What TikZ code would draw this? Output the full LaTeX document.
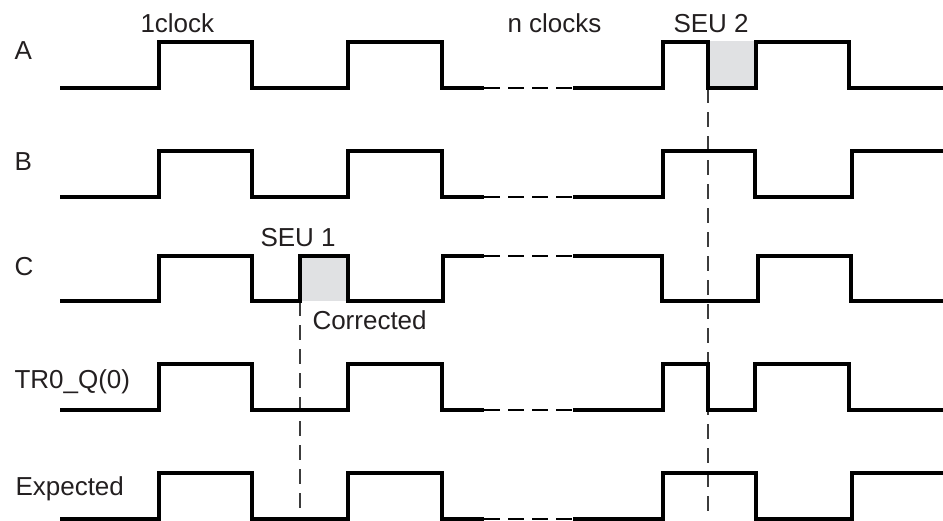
\documentclass[tikz,border=0pt]{standalone}
\usepackage{fontspec}
\setmainfont{Liberation Sans}

\tikzset{every picture/.style={line width=0.75pt}}
\tikzset{
  wave/.style={line width=2.4pt, line join=miter},
  gapline/.style={line width=1pt, dash pattern=on 12pt off 6pt},
  guide/.style={line width=0.9pt, draw={rgb, 255:red, 60; green, 60; blue, 60}, dash pattern=on 11pt off 7pt},
  seubox/.style={fill={rgb, 255:red, 224; green, 225; blue, 227}, draw=none},
  lbl/.style={anchor=base west, inner sep=0pt, text={rgb, 255:red, 35; green, 31; blue, 32}, font=\fontsize{19.5}{23}\selectfont}
}

\begin{document}
\begin{tikzpicture}[x=0.75pt, y=0.75pt, yscale=-1,xscale=1]

    \useasboundingbox (0,0) rectangle (943,521);

    % labels
    \node (lblA)   [lbl] at ( 14, 60) {A};
    \node (lblB)   [lbl] at ( 14,170) {B};
    \node (lblC)   [lbl] at ( 14,275) {C};
    \node (lblTR)  [lbl] at ( 14,388) {TR0\_Q(0)};
    \node (lblExp) [lbl] at ( 15,495) {Expected};

    \node (oneclk) [lbl] at (140, 32) {1clock};
    \node (nclk)   [lbl] at (507, 32) {n clocks};
    \node (seutwo) [lbl] at (673, 32) {SEU 2};
    \node (seuone) [lbl] at (260,246) {SEU 1};
    \node (corr)   [lbl] at (312,329) {Corrected};

    % upsets
    \fill [seubox] (708, 41) rectangle (756, 88);
    \fill [seubox] (300,255) rectangle (348,301);

    \draw [guide] (708, 88) -- (708,517);
    \draw [guide] (300,301) -- (300,519);

    % A
    \draw [wave] ( 60, 88) -- (159, 88) -- (159, 42) -- (252, 42) -- (252, 88) -- (348, 88)
          -- (348, 42) -- (442, 42) -- (442, 88) -- (484, 88);
    \draw [gapline] (484, 88) -- (573, 88);
    \draw [wave] (573, 88) -- (663, 88) -- (663, 42) -- (708, 42) -- (708, 88) -- (756, 88)
          -- (756, 42) -- (849, 42) -- (849, 88) -- (943, 88);

    % B
    \draw [wave] ( 60,197) -- (159,197) -- (159,151) -- (252,151) -- (252,197) -- (348,197)
          -- (348,151) -- (442,151) -- (442,197) -- (484,197);
    \draw [gapline] (484,197) -- (573,197);
    \draw [wave] (573,197) -- (663,197) -- (663,151) -- (755,151) -- (755,197) -- (852,197)
          -- (852,151) -- (943,151);

    % C
    \draw [wave] ( 60,301) -- (159,301) -- (159,256) -- (252,256) -- (252,301) -- (300,301)
          -- (300,256) -- (348,256) -- (348,301) -- (443,301) -- (443,256) -- (484,256);
    \draw [gapline] (484,256) -- (573,256);
    \draw [wave] (573,256) -- (662,256) -- (662,301) -- (758,301) -- (758,256) -- (851,256)
          -- (851,301) -- (943,301);

    % TR0_Q(0)
    \draw [wave] ( 60,410) -- (159,410) -- (159,364) -- (252,364) -- (252,410) -- (348,410)
          -- (348,364) -- (442,364) -- (442,410) -- (484,410);
    \draw [gapline] (484,410) -- (573,410);
    \draw [wave] (573,410) -- (663,410) -- (663,364) -- (708,364) -- (708,410) -- (755,410)
          -- (755,364) -- (849,364) -- (849,410) -- (943,410);

    % Expected
    \draw [wave] ( 60,519) -- (159,519) -- (159,473) -- (252,473) -- (252,519) -- (348,519)
          -- (348,473) -- (442,473) -- (442,519) -- (484,519);
    \draw [gapline] (484,519) -- (573,519);
    \draw [wave] (573,519) -- (663,519) -- (663,473) -- (756,473) -- (756,519) -- (852,519)
          -- (852,473) -- (943,473);

  \end{tikzpicture}
\end{document}
